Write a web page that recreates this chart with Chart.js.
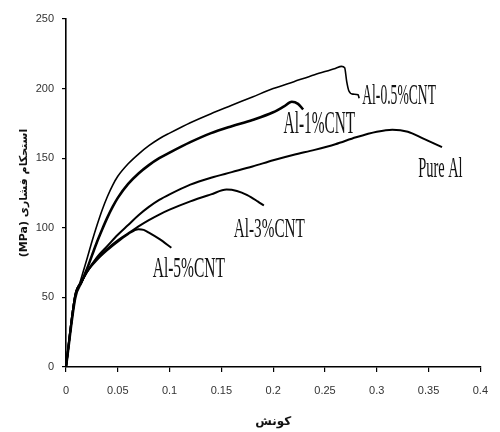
<!DOCTYPE html>
<html>
<head>
<meta charset="utf-8">
<script src="https://cdn.jsdelivr.net/npm/chart.js@4.4.1/dist/chart.umd.min.js"></script>
<style>
  html, body { margin: 0; padding: 0; background: #ffffff; }
  canvas { display: block; }
</style>
</head>
<body>
<canvas id="c" width="500" height="432"></canvas>
<script>
// ---- Data (strain, compressive stress in MPa) ----
const seriesNames = ['Al-0.5%CNT', 'Al-1%CNT', 'Pure Al', 'Al-3%CNT', 'Al-5%CNT'];

const strainAl05 = [0, 0.009, 0.014, 0.02, 0.025, 0.03, 0.035, 0.04, 0.045, 0.05, 0.06, 0.07, 0.08, 0.09, 0.10, 0.12, 0.14, 0.16, 0.18, 0.20, 0.22, 0.24, 0.26, 0.266, 0.269, 0.271, 0.273, 0.277, 0.282, 0.283];
const stressAl05 = [0, 50, 62, 77, 90, 102, 113, 122.5, 130.5, 137, 146, 153, 159, 164, 168, 175.5, 182, 188, 194, 200, 205, 210, 214.5, 216, 215, 205, 198.5, 196, 195.5, 193];

const strainAl1 = [0, 0.009, 0.015, 0.02, 0.025, 0.03, 0.035, 0.04, 0.045, 0.05, 0.06, 0.07, 0.08, 0.09, 0.10, 0.12, 0.14, 0.16, 0.18, 0.20, 0.21, 0.218, 0.224, 0.229];
const stressAl1 = [0, 50, 61, 70, 80, 90, 99, 107.5, 115, 121.5, 131.5, 139, 145, 150, 154, 161.5, 168, 173, 177.5, 183, 187, 190.5, 189, 185];

const strainPure = [0, 0.009, 0.015, 0.02, 0.03, 0.04, 0.05, 0.06, 0.07, 0.08, 0.09, 0.10, 0.12, 0.14, 0.16, 0.18, 0.20, 0.22, 0.24, 0.26, 0.28, 0.30, 0.315, 0.33, 0.345, 0.363];
const stressPure = [0, 52, 61, 68, 79, 87, 95, 102, 109, 115, 120, 124, 131, 136, 140, 144, 148.5, 152.5, 156, 160, 165, 169, 170.5, 169, 164, 158];

const strainAl3 = [0, 0.009, 0.015, 0.02, 0.03, 0.04, 0.05, 0.06, 0.07, 0.08, 0.09, 0.10, 0.12, 0.14, 0.155, 0.165, 0.175, 0.185, 0.191];
const stressAl3 = [0, 52, 61, 68, 78, 85, 91, 96, 101, 105.5, 109.5, 113, 119, 124, 127.5, 126.5, 123.5, 119, 116];

const strainAl5 = [0, 0.009, 0.015, 0.02, 0.03, 0.04, 0.05, 0.06, 0.07, 0.075, 0.08, 0.09, 0.1017];
const stressAl5 = [0, 52, 61, 68, 77, 84, 90, 95.5, 99, 98.5, 96.5, 92, 85.7];

const xTicks = [0, 0.05, 0.1, 0.15, 0.2, 0.25, 0.3, 0.35, 0.4];
const yTicks = [0, 50, 100, 150, 200, 250];

const xTitle = 'کونش';
const yTitle = 'استحکام فشاری (MPa)';

// ---- build datasets ----
function pts(xs, ys) { return xs.map((x, i) => ({ x: x, y: ys[i] })); }
const allX = [strainAl05, strainAl1, strainPure, strainAl3, strainAl5];
const allY = [stressAl05, stressAl1, stressPure, stressAl3, stressAl5];
const widths = [1.6, 2.6, 2.0, 2.0, 2.0];

const datasets = seriesNames.map((n, i) => ({
  label: n,
  data: pts(allX[i], allY[i]),
  borderColor: '#000000',
  backgroundColor: '#000000',
  borderWidth: widths[i],
  pointRadius: 0,
  fill: false,
  cubicInterpolationMode: 'monotone'
}));

// ---- in-plot curve labels (anchored in data units) ----
const curveLabelPlugin = {
  id: 'curveLabels',
  beforeDraw(chart) {
    chart.ctx.direction = 'rtl';
  },
  afterDatasetsDraw(chart, args, opts) {
    const ctx = chart.ctx;
    const xs = chart.scales.x, ys = chart.scales.y;
    opts.items.forEach(it => {
      const px = xs.getPixelForValue(it.at[0]);
      const py = ys.getPixelForValue(it.at[1]);
      ctx.save();
      ctx.direction = 'ltr';
      ctx.font = opts.size + 'px "Liberation Serif", "Times New Roman", serif';
      ctx.textAlign = 'left';
      ctx.textBaseline = 'alphabetic';
      ctx.fillStyle = '#111111';
      const w = ctx.measureText(it.text).width;
      const sx = it.w / w;
      const sy = it.cap / (0.662 * opts.size);
      ctx.translate(px, py);
      ctx.scale(sx, sy);
      ctx.fillText(it.text, 0, 0);
      ctx.restore();
    });
  }
};

new Chart(document.getElementById('c'), {
  type: 'line',
  data: { datasets: datasets },
  plugins: [curveLabelPlugin],
  options: {
    responsive: false,
    animation: false,
    events: [],
    layout: { padding: { top: 19, right: 8, left: 0, bottom: 0 } },
    plugins: {
      legend: { display: false },
      tooltip: { enabled: false },
      curveLabels: {
        size: 22,
        items: [
          { text: seriesNames[0], at: [0.286, 189], w: 73.7, cap: 19 },
          { text: seriesNames[1], at: [0.210, 168], w: 71.7, cap: 21 },
          { text: seriesNames[2], at: [0.340, 136.7], w: 44.4, cap: 20 },
          { text: seriesNames[3], at: [0.162, 93.6], w: 71, cap: 18.5 },
          { text: seriesNames[4], at: [0.0837, 65], w: 72.3, cap: 20 }
        ]
      }
    },
    scales: {
      x: {
        type: 'linear',
        min: xTicks[0],
        max: xTicks[xTicks.length - 1],
        afterBuildTicks(scale) { scale.ticks = xTicks.map(v => ({ value: v })); },
        afterFit(scale) { scale.height = 65; },
        ticks: {
          color: '#333333',
          padding: 12,
          maxRotation: 0,
          font: { family: '"Liberation Sans", Arial, sans-serif', size: 11 },
          callback: v => String(Number(v.toFixed(2)))
        },
        grid: { drawOnChartArea: false, drawTicks: true, tickLength: 5, color: '#000000', lineWidth: 1.2 },
        border: { display: true, color: '#000000', width: 1.6 },
        title: {
          display: true,
          text: xTitle,
          color: '#111111',
          font: { family: '"DejaVu Sans", sans-serif', size: 12, weight: 'bold' },
          padding: { top: 0, bottom: 3 }
        }
      },
      y: {
        type: 'linear',
        min: yTicks[0],
        max: yTicks[yTicks.length - 1],
        afterBuildTicks(scale) { scale.ticks = yTicks.map(v => ({ value: v })); },
        afterFit(scale) { scale.width = 66; },
        ticks: {
          color: '#333333',
          padding: 8,
          font: { family: '"Liberation Sans", Arial, sans-serif', size: 11 }
        },
        grid: { drawOnChartArea: false, drawTicks: true, tickLength: 4, color: '#000000', lineWidth: 1.2 },
        border: { display: true, color: '#000000', width: 1.6 },
        title: {
          display: true,
          text: yTitle,
          color: '#111111',
          font: { family: '"DejaVu Sans", sans-serif', size: 11, weight: 'bold' },
          padding: { top: 18, bottom: 0 }
        }
      }
    }
  }
});
</script>
</body>
</html>
